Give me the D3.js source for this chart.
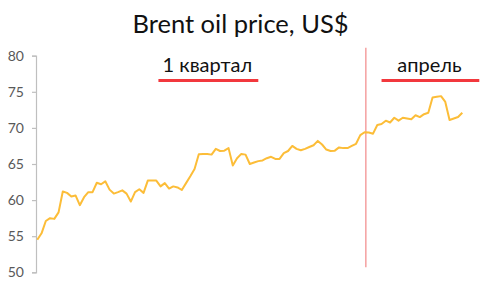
<!DOCTYPE html>
<html>
<head>
<meta charset="utf-8">
<script src="https://cdn.jsdelivr.net/npm/d3@7"></script>
<style>
  body { margin: 0; background: #fff; }
  svg { display: block; font-family: Lato, "Open Sans", sans-serif; }
</style>
</head>
<body>
<svg id="chart" width="483" height="288"></svg>
<script>
// Brent daily close, Jan..Apr
const prices = [
  54.5, 55.4, 57.1, 57.5, 57.4, 58.3, 61.2, 61.0, 60.5, 60.65,
  59.3, 60.4, 61.1, 61.1, 62.4, 62.2, 62.6, 61.45, 60.9, 61.1,
  61.35, 60.9, 59.8, 61.1, 61.5, 61.0, 62.7, 62.7, 62.7, 61.9,
  62.35, 61.6, 61.9, 61.75, 61.4, 62.35, 63.3, 64.3, 66.35, 66.4,
  66.4, 66.3, 67.1, 66.8, 66.85, 67.2, 64.8, 65.8, 66.4, 66.3,
  65.0, 65.2, 65.4, 65.5, 65.8, 66.0, 65.7, 65.7, 66.5, 66.8,
  67.5, 67.1, 66.9, 67.1, 67.35, 67.6, 68.2, 67.7, 67.0, 66.8,
  66.85, 67.3, 67.2, 67.2, 67.5, 67.8, 69.0, 69.4, 69.35, 69.2,
  70.4, 70.55, 71.0, 70.75, 71.4, 71.0, 71.4, 71.3, 71.2, 71.75,
  71.5, 71.9, 72.1, 74.2, 74.3, 74.4, 73.6, 71.1, 71.3, 71.5,
  72.1
];
const yTicks = [50, 55, 60, 65, 70, 75, 80];
const aprilStart = 77.3;   // where the divider sits (index on x)
const periods = [
  { label: '1 квартал', from: 28.5, to: 52 },
  { label: 'апрель', from: 81, to: 104 }
];
const title = 'Brent oil price, US$';

const svg = d3.select('#chart');

const x = d3.scaleLinear().domain([0, prices.length - 1]).range([37.3, 462.3]);
const y = d3.scaleLinear().domain([50, 80]).range([272.3, 55.7]);

// y axis
const yAxis = svg.append('g')
  .attr('transform', 'translate(36,0)')
  .call(d3.axisLeft(y).tickValues(yTicks).tickSize(4).tickPadding(8));
yAxis.select('.domain').attr('stroke', '#bfbfbf').attr('stroke-width', 1.2);
yAxis.selectAll('.tick line').attr('stroke', '#bfbfbf').attr('stroke-width', 1.2);
yAxis.selectAll('.tick text')
  .attr('fill', '#595959')
  .attr('font-size', 14)
  .attr('font-family', 'Lato, sans-serif');

// divider between Q1 and April
svg.append('line')
  .attr('x1', x(aprilStart)).attr('x2', x(aprilStart))
  .attr('y1', y(81.1)).attr('y2', y(50.7))
  .attr('stroke', '#f5a0a0')
  .attr('stroke-width', 1.5);

// price line
const line = d3.line()
  .x((d, i) => x(i))
  .y((d) => y(d));

svg.append('path')
  .datum(prices)
  .attr('d', line)
  .attr('fill', 'none')
  .attr('stroke', '#fcbd38')
  .attr('stroke-width', 2)
  .attr('stroke-linejoin', 'round');

// period labels with red underline
const period = svg.selectAll('.period')
  .data(periods)
  .enter()
  .append('g')
  .attr('class', 'period');

period.append('line')
  .attr('x1', (d) => x(d.from))
  .attr('x2', (d) => x(d.to))
  .attr('y1', 80.5).attr('y2', 80.5)
  .attr('stroke', '#f2383d')
  .attr('stroke-width', 3);

period.append('text')
  .attr('x', (d) => (x(d.from) + x(d.to)) / 2 - 1)
  .attr('y', 72)
  .attr('text-anchor', 'middle')
  .attr('font-size', 20)
  .attr('fill', '#111')
  .text((d) => d.label);

// title
svg.append('text')
  .attr('x', 240.5)
  .attr('y', 33)
  .attr('text-anchor', 'middle')
  .attr('font-size', 25.5)
  .attr('fill', '#111')
  .text(title);
</script>
</body>
</html>
